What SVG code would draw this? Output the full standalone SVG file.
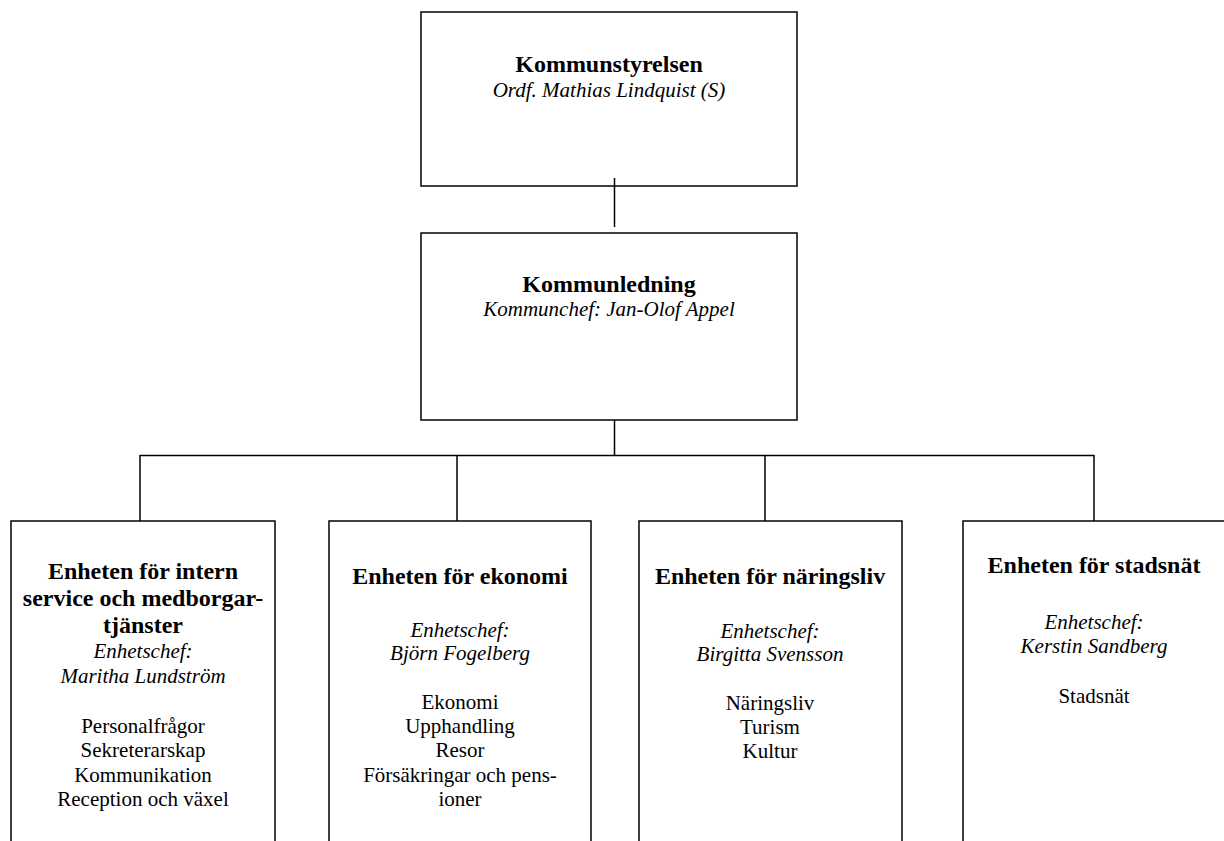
<svg xmlns="http://www.w3.org/2000/svg" width="1224" height="841" viewBox="0 0 1224 841">
<style>
.box{fill:#fff;stroke:#000;stroke-width:1.5}
.con{fill:none;stroke:#000;stroke-width:1.5}
text{font-family:"Liberation Serif","Times New Roman",serif;fill:#000;text-anchor:middle}
.b{font-weight:bold;font-size:24px}
.i{font-style:italic;font-size:21px}
.r{font-size:21px}
</style>
<rect width="1224" height="841" fill="#fff"/>
<g id="kommunstyrelsen">
<rect class="box" x="421" y="12" width="376" height="174"/>
<text class="b" x="609" y="72">Kommunstyrelsen</text>
<text class="i" x="609" y="97">Ordf. Mathias Lindquist (S)</text>
</g>
<g id="kommunledning">
<rect class="box" x="421" y="233" width="376" height="187"/>
<text class="b" x="609" y="292">Kommunledning</text>
<text class="i" x="609" y="316">Kommunchef: Jan-Olof Appel</text>
</g>
<g id="intern-service">
<rect class="box" x="11" y="521" width="264" height="340"/>
<text class="b" x="143" y="579">Enheten för intern</text>
<text class="b" x="143" y="606">service och medborgar-</text>
<text class="b" x="143" y="633">tjänster</text>
<text class="i" x="143" y="658">Enhetschef:</text>
<text class="i" x="143" y="683">Maritha Lundström</text>
<text class="r" x="143" y="733">Personalfrågor</text>
<text class="r" x="143" y="757">Sekreterarskap</text>
<text class="r" x="143" y="782">Kommunikation</text>
<text class="r" x="143" y="806">Reception och växel</text>
</g>
<g id="ekonomi">
<rect class="box" x="329" y="521" width="262" height="340"/>
<text class="b" x="460" y="584">Enheten för ekonomi</text>
<text class="i" x="460" y="637">Enhetschef:</text>
<text class="i" x="460" y="660">Björn Fogelberg</text>
<text class="r" x="460" y="709">Ekonomi</text>
<text class="r" x="460" y="733">Upphandling</text>
<text class="r" x="460" y="757">Resor</text>
<text class="r" x="460" y="782">Försäkringar och pens-</text>
<text class="r" x="460" y="806">ioner</text>
</g>
<g id="naringsliv">
<rect class="box" x="639" y="521" width="263" height="340"/>
<text class="b" x="770" y="584">Enheten för näringsliv</text>
<text class="i" x="770" y="638">Enhetschef:</text>
<text class="i" x="770" y="661">Birgitta Svensson</text>
<text class="r" x="770" y="710">Näringsliv</text>
<text class="r" x="770" y="734">Turism</text>
<text class="r" x="770" y="758">Kultur</text>
</g>
<g id="stadsnat">
<rect class="box" x="963" y="521" width="280" height="340"/>
<text class="b" x="1094" y="573">Enheten för stadsnät</text>
<text class="i" x="1094" y="629">Enhetschef:</text>
<text class="i" x="1094" y="653">Kerstin Sandberg</text>
<text class="r" x="1094" y="703">Stadsnät</text>
</g>
<g id="connectors">
<path class="con" d="M614.5 178V227"/>
<path class="con" d="M614.5 420V455.5M140 455.5H1094M140 455V521M457 455V521M765 455V521M1094 455V521"/>
</g>
</svg>
